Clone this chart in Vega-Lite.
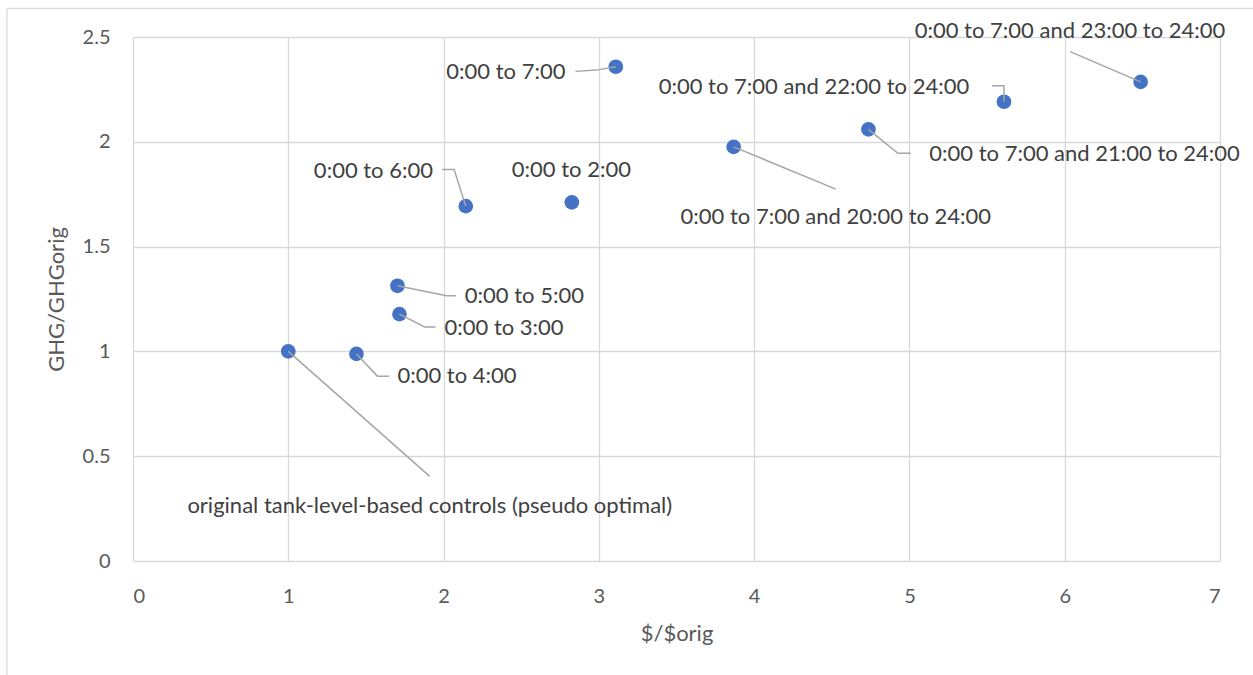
{
  "$schema": "https://vega.github.io/schema/vega-lite/v6.json",
  "width": 1087,
  "height": 524,
  "autosize": {"type": "none"},
  "padding": {"left": 133, "top": 37, "right": 33, "bottom": 114},
  "background": "white",
  "config": {
    "view": {"stroke": null},
    "font": "Lato",
    "axis": {
      "labelFont": "Lato",
      "titleFont": "Lato",
      "labelColor": "#595959",
      "titleColor": "#595959",
      "labelFontSize": 20,
      "titleFontSize": 22,
      "titleFontWeight": "normal",
      "gridColor": "#d9d9d9",
      "gridWidth": 1.3,
      "domain": false,
      "ticks": false,
      "tickSize": 0,
      "format": "~g"
    }
  },
  "datasets": {
    "points": [
      {"label": "original tank-level-based controls (pseudo optimal)", "cost": 1.0, "ghg": 1.0, "label_x": 1.911, "label_y": 0.263},
      {"label": "0:00 to 4:00", "cost": 1.439, "ghg": 0.988, "label_x": 1.703, "label_y": 0.882},
      {"label": "0:00 to 3:00", "cost": 1.716, "ghg": 1.178, "label_x": 2.006, "label_y": 1.113},
      {"label": "0:00 to 5:00", "cost": 1.703, "ghg": 1.313, "label_x": 2.137, "label_y": 1.264},
      {"label": "0:00 to 6:00", "cost": 2.143, "ghg": 1.693, "label_x": 1.932, "label_y": 1.863},
      {"label": "0:00 to 2:00", "cost": 2.826, "ghg": 1.711, "label_x": 2.823, "label_y": 1.865},
      {"label": "0:00 to 7:00", "cost": 3.109, "ghg": 2.358, "label_x": 2.785, "label_y": 2.335},
      {"label": "0:00 to 7:00 and 20:00 to 24:00", "cost": 3.868, "ghg": 1.976, "label_x": 4.526, "label_y": 1.641},
      {"label": "0:00 to 7:00 and 21:00 to 24:00", "cost": 4.736, "ghg": 2.059, "label_x": 5.128, "label_y": 1.941},
      {"label": "0:00 to 7:00 and 22:00 to 24:00", "cost": 5.609, "ghg": 2.191, "label_x": 5.385, "label_y": 2.261},
      {"label": "0:00 to 7:00 and 23:00 to 24:00", "cost": 6.489, "ghg": 2.286, "label_x": 6.034, "label_y": 2.531}
    ],
    "leaders": [
      {"label": "original", "seq": 0, "x": 1.0, "y": 1.0},
      {"label": "original", "seq": 1, "x": 1.911, "y": 0.404},
      {"label": "4", "seq": 0, "x": 1.439, "y": 0.988},
      {"label": "4", "seq": 1, "x": 1.574, "y": 0.882},
      {"label": "4", "seq": 2, "x": 1.649, "y": 0.882},
      {"label": "3", "seq": 0, "x": 1.716, "y": 1.178},
      {"label": "3", "seq": 1, "x": 1.879, "y": 1.117},
      {"label": "3", "seq": 2, "x": 1.948, "y": 1.117},
      {"label": "5", "seq": 0, "x": 1.703, "y": 1.313},
      {"label": "5", "seq": 1, "x": 2.019, "y": 1.265},
      {"label": "5", "seq": 2, "x": 2.079, "y": 1.265},
      {"label": "6", "seq": 0, "x": 2.143, "y": 1.693},
      {"label": "6", "seq": 1, "x": 2.068, "y": 1.868},
      {"label": "6", "seq": 2, "x": 1.99, "y": 1.868},
      {"label": "7", "seq": 0, "x": 3.109, "y": 2.358},
      {"label": "7", "seq": 1, "x": 2.985, "y": 2.342},
      {"label": "7", "seq": 2, "x": 2.85, "y": 2.336},
      {"label": "20", "seq": 0, "x": 3.868, "y": 1.976},
      {"label": "20", "seq": 1, "x": 4.526, "y": 1.774},
      {"label": "21", "seq": 0, "x": 4.736, "y": 2.059},
      {"label": "21", "seq": 1, "x": 4.926, "y": 1.945},
      {"label": "21", "seq": 2, "x": 5.008, "y": 1.945},
      {"label": "22", "seq": 0, "x": 5.609, "y": 2.191},
      {"label": "22", "seq": 1, "x": 5.609, "y": 2.267},
      {"label": "22", "seq": 2, "x": 5.531, "y": 2.267},
      {"label": "23", "seq": 0, "x": 6.489, "y": 2.286},
      {"label": "23", "seq": 1, "x": 6.035, "y": 2.43}
    ],
    "frame": [
      {"part": "left", "x": -0.812, "x2": -0.812, "y": 2.637, "y2": -0.6},
      {"part": "top", "x": -0.812, "x2": 7.4, "y": 2.637, "y2": 2.637}
    ]
  },
  "layer": [
    {
      "data": {"name": "points"},
      "mark": {"type": "point", "filled": true, "size": 215, "opacity": 1, "color": "#4472C4"},
      "encoding": {
        "x": {
          "field": "cost", "type": "quantitative",
          "scale": {"domain": [0, 7], "nice": false, "zero": false},
          "axis": {"title": "$/$orig", "values": [0, 1, 2, 3, 4, 5, 6, 7], "labelPadding": 25, "titlePadding": 17, "format": "~g"}
        },
        "y": {
          "field": "ghg", "type": "quantitative",
          "scale": {"domain": [0, 2.5], "nice": false, "zero": false},
          "axis": {"title": "GHG/GHGorig", "values": [0, 0.5, 1, 1.5, 2, 2.5], "labelPadding": 23, "titlePadding": 14, "format": "~g"}
        }
      }
    },
    {
      "data": {"name": "frame"},
      "mark": {"type": "rule", "color": "#d9d9d9", "strokeWidth": 1.3, "clip": false},
      "encoding": {
        "x": {"field": "x", "type": "quantitative"},
        "x2": {"field": "x2"},
        "y": {"field": "y", "type": "quantitative"},
        "y2": {"field": "y2"}
      }
    },
    {
      "data": {"name": "leaders"},
      "mark": {"type": "line", "color": "#a6a6a6", "strokeWidth": 1.5, "clip": false},
      "encoding": {
        "x": {"field": "x", "type": "quantitative"},
        "y": {"field": "y", "type": "quantitative"},
        "detail": {"field": "label"},
        "order": {"field": "seq", "type": "quantitative"}
      }
    },
    {
      "data": {"name": "points"},
      "transform": [{"filter": {"field": "label", "oneOf": ["0:00 to 4:00", "0:00 to 3:00", "0:00 to 5:00", "0:00 to 7:00 and 21:00 to 24:00"]}}],
      "mark": {"type": "text", "align": "left", "baseline": "middle", "font": "Lato", "fontSize": 22, "color": "#404040"},
      "encoding": {
        "x": {"field": "label_x", "type": "quantitative"},
        "y": {"field": "label_y", "type": "quantitative"},
        "text": {"field": "label"}
      }
    },
    {
      "data": {"name": "points"},
      "transform": [{"filter": {"field": "label", "oneOf": ["0:00 to 6:00", "0:00 to 7:00", "0:00 to 7:00 and 22:00 to 24:00"]}}],
      "mark": {"type": "text", "align": "right", "baseline": "middle", "font": "Lato", "fontSize": 22, "color": "#404040"},
      "encoding": {
        "x": {"field": "label_x", "type": "quantitative"},
        "y": {"field": "label_y", "type": "quantitative"},
        "text": {"field": "label"}
      }
    },
    {
      "data": {"name": "points"},
      "transform": [{"filter": {"field": "label", "oneOf": ["original tank-level-based controls (pseudo optimal)", "0:00 to 2:00", "0:00 to 7:00 and 20:00 to 24:00", "0:00 to 7:00 and 23:00 to 24:00"]}}],
      "mark": {"type": "text", "align": "center", "baseline": "middle", "font": "Lato", "fontSize": 22, "color": "#404040"},
      "encoding": {
        "x": {"field": "label_x", "type": "quantitative"},
        "y": {"field": "label_y", "type": "quantitative"},
        "text": {"field": "label"}
      }
    }
  ]
}
